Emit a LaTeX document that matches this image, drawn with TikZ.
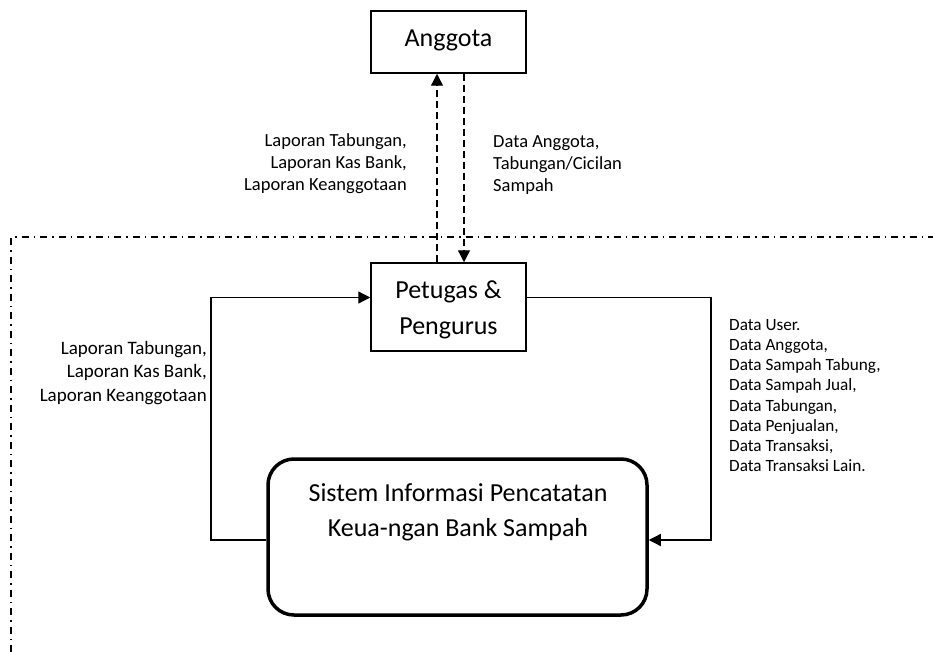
\documentclass[tikz,border=0pt]{standalone}
\usepackage{fontspec}
\setmainfont{Carlito}
\usetikzlibrary{arrows.meta}
\begin{document}
\begin{tikzpicture}[x=1pt,y=-1pt,
  box/.style={draw,line width=1.5pt,inner sep=0pt},
  conn/.style={line width=1.3pt,-{Triangle[length=12pt,width=12pt]}},
  dconn/.style={conn,dash pattern=on 7pt off 4pt},
  boundary/.style={line width=1.3pt,dash pattern=on 7pt off 5pt on 1.5pt off 5pt},
  bigtext/.style={font=\fontsize{26pt}{35.5pt}\selectfont,align=center,inner sep=0pt},
  lbl/.style={font=\fontsize{18.5pt}{22pt}\selectfont,inner sep=0pt},
  lblb/.style={font=\fontsize{19pt}{23.3pt}\selectfont,inner sep=0pt},
  lblr/.style={font=\fontsize{17.2pt}{20.1pt}\selectfont,inner sep=0pt}]
\useasboundingbox (0,0) rectangle (933,652);
% boundary
\coordinate (bR) at (933,237);
\coordinate (bC) at (11,237);
\coordinate (bB) at (11,652);
\draw[boundary] (bB) -- (bC) -- (bR);
% nodes
\node[box,minimum width=155pt,minimum height=62pt] (anggota) at (448.5,42) {};
\node[bigtext] (anggotat) at (448.5,40) {Anggota};
\node[box,minimum width=155pt,minimum height=88pt] (petugas) at (448.5,307) {};
\node[bigtext] (petugast) at (448.5,310) {Petugas \&\\Pengurus};
\node[draw,line width=3.5pt,rounded corners=26pt,minimum width=379pt,minimum height=156pt] (sistem) at (457.5,537) {};
\node[bigtext] (sistemt) at (458,512.5) {Sistem Informasi Pencatatan\\Keua-ngan Bank Sampah};
% dashed flows between Anggota and Petugas
\draw[dconn] ([xshift=-11.5pt]petugas.north) -- ([xshift=-11.5pt]anggota.south);
\draw[dconn] ([xshift=15.5pt]anggota.south) -- ([xshift=15.5pt]petugas.north);
% loop connectors
\coordinate (lc) at (211,540);
\coordinate (rc) at (711,540);
\draw[conn] ([yshift=-3pt]sistem.west) -- (lc) |- ([yshift=9.5pt]petugas.west);
\draw[conn] ([yshift=9.5pt]petugas.east) -| (rc) -- ([yshift=-3pt]sistem.east);
% labels
\node[lbl,align=right,anchor=east] (l1) at (407,164) {Laporan Tabungan,\\Laporan Kas Bank,\\Laporan Keanggotaan};
\node[lbl,align=left,anchor=west] (l2) at (493,165) {Data Anggota,\\Tabungan/Cicilan\\Sampah};
\node[lblb,align=right,anchor=east] (l3) at (207,373) {Laporan Tabungan,\\Laporan Kas Bank,\\Laporan Keanggotaan};
\node[lblr,align=left,anchor=west] (l4) at (729,395.5) {Data User.\\Data Anggota,\\Data Sampah Tabung,\\Data Sampah Jual,\\Data Tabungan,\\Data Penjualan,\\Data Transaksi,\\Data Transaksi Lain.};
\end{tikzpicture}
\end{document}
